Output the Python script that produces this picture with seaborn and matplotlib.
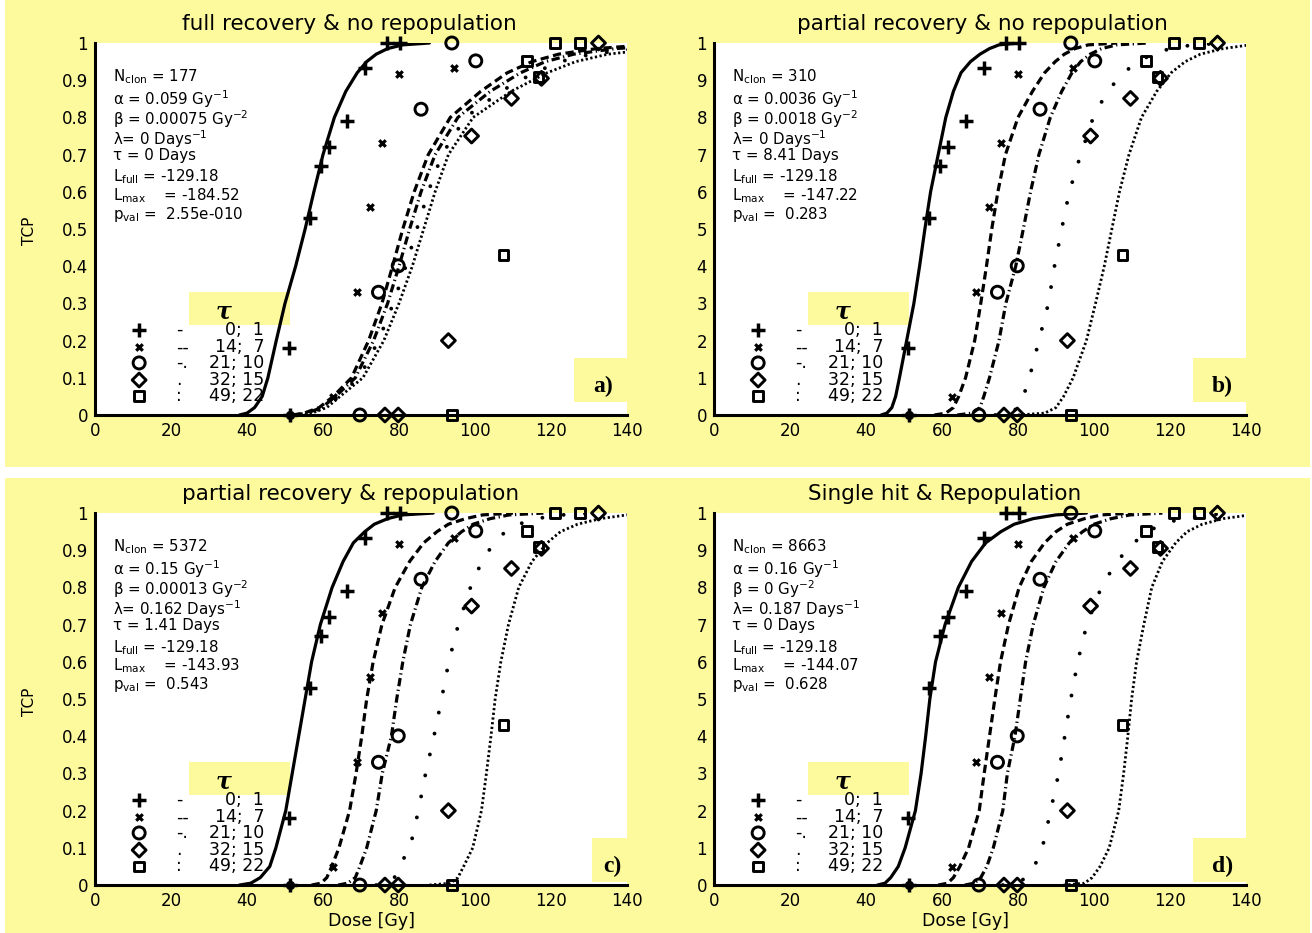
import matplotlib
matplotlib.use("Agg")
import matplotlib.pyplot as plt
import seaborn as sns
from matplotlib.patches import Rectangle

YELLOW = "#fdfa9e"

LEVELS = [0, 0.005, 0.02, 0.05, 0.1, 0.2, 0.3, 0.4, 0.5, 0.6, 0.7, 0.8,
          0.87, 0.92, 0.95, 0.97, 0.985, 0.995, 1.0]

# dose [Gy] at each level, curves ordered: solid, dashed, dash-dot, dots, dotted
CURVES_A = [
    [38, 40, 42, 44, 45.5, 47.7, 50, 52.8, 55.3, 57.6, 60, 63, 66, 69, 71.5, 74, 77, 81, 88],
    [52, 55, 59, 62.7, 67.5, 72, 75.5, 78.3, 81, 84, 87.7, 93.5, 101.5, 108.5, 115, 122, 132, 145, 160],
    [52.5, 55.7, 59.7, 63.3, 68.5, 73.3, 77, 80, 82.8, 85.8, 89.5, 95.5, 104, 112, 118.5, 126, 137, 152, 167],
    [53.3, 56.3, 60.3, 63.9, 69.5, 74.6, 78.5, 81.8, 84.7, 87.7, 91.3, 97.5, 106.8, 115.5, 122.5, 130.5, 142.5, 158, 173],
    [54, 57, 61, 64.5, 70.5, 76, 80, 83.5, 86.5, 89.5, 93, 99.5, 109.5, 119, 126.5, 135, 148, 165, 180],
]
CURVES_B = [
    [44, 45.5, 46.8, 47.8, 48.8, 50.7, 52.6, 54.1, 55.5, 57, 59, 61, 63, 65, 67.5, 70, 72.5, 75, 80],
    [58, 61, 63, 64.4, 66.2, 68.6, 70.2, 71.7, 73.1, 74.7, 76.7, 80, 83.8, 87, 89.8, 92.2, 95, 98.5, 106],
    [64, 68, 70, 71, 72.5, 75, 76.8, 79.4, 81.4, 83.3, 85.5, 88.5, 91.5, 94.2, 96.5, 99, 102, 106, 114],
    [74, 78, 80, 81.4, 83, 85.5, 88, 89.6, 91.5, 93.5, 96.5, 99.8, 103.5, 107.8, 111.5, 115.5, 120, 126, 135],
    [80, 87, 90, 92, 94.5, 98, 100.4, 102.7, 104.7, 106.7, 109.2, 112.5, 116.5, 120.3, 124, 128, 134, 141, 150],
]
CURVES_C = [
    [38, 41, 43.5, 46, 47.6, 50.2, 51.9, 53.6, 55.3, 57, 59.3, 62.4, 65.3, 68, 71, 73.5, 77, 81, 89],
    [57, 59.5, 61, 62.3, 64.2, 67, 68.7, 70.2, 71.5, 73.2, 75.5, 79, 82.8, 86.5, 90, 93, 97.5, 102, 110],
    [64, 66.5, 68.5, 69.7, 71.5, 74, 75.6, 78, 79.4, 81, 83, 86, 89.5, 93, 96.5, 99.5, 104, 109, 118],
    [74, 77.5, 78.8, 80, 82.9, 85.1, 87, 89.2, 91.2, 93.1, 95.6, 98.8, 101.8, 105, 108, 111.5, 116, 123, 132],
    [88, 93.5, 95.5, 97, 99.4, 101.7, 103, 104.2, 105.3, 106.8, 108.8, 111.5, 115, 119, 122.5, 127, 133, 140, 150],
]
CURVES_D = [
    [43, 45, 46.5, 48.5, 50.3, 53, 54.5, 55.7, 56.8, 58.3, 60.8, 64.3, 67.8, 71.5, 75.5, 79, 84, 90, 98],
    [59, 61.5, 63, 64.7, 67, 69.8, 71.1, 72.5, 73.9, 75.4, 77.5, 80.3, 83.5, 87, 90, 93, 97.5, 102, 110],
    [66, 68.5, 70.2, 71.8, 73.5, 76, 77.2, 79.2, 80.6, 82, 84, 86.8, 90, 93.5, 97, 100, 104.5, 109.5, 118],
    [76, 80, 82, 84.3, 86.4, 88.6, 90.7, 92.3, 93.9, 95.7, 98.1, 101.9, 106, 110.5, 114, 118, 123, 129, 137],
    [92, 97.5, 99.5, 101.6, 104, 106.5, 107.8, 108.9, 109.9, 111.2, 113.1, 115.2, 118, 121.5, 124.5, 128.5, 134, 141, 150],
]

# observed control rates (identical in all four panels)
PLUS_DOSE = [76.8, 80.3, 71.1, 66.2, 61.6, 59.5, 56.6, 51.1, 51.3]
PLUS_TCP = [1.0, 1.0, 0.932, 0.791, 0.721, 0.670, 0.529, 0.179, 0.0]
CROSS_DOSE = [80.0, 94.5, 75.4, 72.4, 68.9, 62.6, 51.3]
CROSS_TCP = [0.918, 0.932, 0.732, 0.560, 0.330, 0.049, 0.0]
CIRCLE_DOSE = [93.9, 100.2, 85.8, 79.8, 74.6, 69.7]
CIRCLE_TCP = [1.0, 0.952, 0.822, 0.401, 0.330, 0.0]
DIAMOND_DOSE = [132.5, 117.5, 109.6, 99.1, 93.0, 76.3, 79.8]
DIAMOND_TCP = [1.0, 0.905, 0.851, 0.750, 0.200, 0.0, 0.0]
SQUARE_DOSE = [121.1, 127.6, 113.6, 116.7, 107.5, 93.9]
SQUARE_TCP = [1.0, 1.0, 0.952, 0.909, 0.430, 0.0]

GROUP_CODES = ["-", "--", "-.", ".", ":"]
GROUP_LABELS = ["0;  1", "14;  7", "21; 10", "32; 15", "49; 22"]

TITLES = ["full recovery & no repopulation", "partial recovery & no repopulation",
          "partial recovery & repopulation", "Single hit & Repopulation"]
N_CLON = ["177", "310", "5372", "8663"]
ALPHA = ["0.059", "0.0036", "0.15", "0.16"]
BETA = ["0.00075", "0.0018", "0.00013", "0"]
LAMBDA = ["0", "0", "0.162", "0.187"]
TAU = ["0", "8.41", "1.41", "0"]
L_FULL = "-129.18"
L_MAX = ["-184.52", "-147.22", "-143.93", "-144.07"]
P_VAL = ["2.55e-010", "0.283", "0.543", "0.628"]
LETTERS = ["a)", "b)", "c)", "d)"]

LINE_STYLES = [
    dict(linestyle="-", lw=2.3),
    dict(linestyle=(0, (2.6, 1.4)), lw=2.3),
    dict(linestyle=(0, (2.6, 1.1, 0.4, 1.1)), lw=2.3),
    dict(linestyle=(0, (0.01, 5.5)), lw=2.8, dash_capstyle="round"),
    dict(linestyle=(0, (0.8, 0.9)), lw=2.0),
]
MARKERS = [
    dict(marker="+", s=95, linewidth=2.5, color="k"),
    dict(marker="x", s=22, linewidth=2.3, color="k"),
    dict(marker="o", s=75, linewidth=2.1, color="k", facecolor="none", edgecolor="k"),
    dict(marker="D", s=50, linewidth=2.1, color="k", facecolor="none", edgecolor="k"),
    dict(marker="s", s=50, linewidth=2.1, color="k", facecolor="none", edgecolor="k"),
]

sns.set_style("white")
plt.rcParams["font.family"] = ["DejaVu Sans"]
plt.rcParams["mathtext.fontset"] = "dejavusans"
plt.rcParams["text.color"] = "black"
plt.rcParams["axes.labelcolor"] = "black"
plt.rcParams["xtick.color"] = "black"
plt.rcParams["ytick.color"] = "black"


def draw_panel(ax, i, curves):
    ax.set_facecolor("white")

    # yellow boxes for the legend header and panel letter
    ax.add_patch(Rectangle((0.177, 0.242), 0.19, 0.089, transform=ax.transAxes,
                           facecolor=YELLOW, edgecolor="none", zorder=0.5))
    box = [(0.900, 0.035, 0.100, 0.118), (0.900, 0.035, 0.100, 0.118),
           (0.934, 0.009, 0.066, 0.117), (0.900, 0.008, 0.100, 0.118)][i]
    ax.add_patch(Rectangle(box[:2], box[2], box[3], transform=ax.transAxes,
                           facecolor=YELLOW, edgecolor="none", zorder=0.5))

    for dose, style in zip(curves, LINE_STYLES):
        sns.lineplot(x=dose, y=LEVELS, ax=ax, color="k", sort=False,
                     estimator=None, zorder=2, **style)

    groups = [(PLUS_DOSE, PLUS_TCP), (CROSS_DOSE, CROSS_TCP), (CIRCLE_DOSE, CIRCLE_TCP),
              (DIAMOND_DOSE, DIAMOND_TCP), (SQUARE_DOSE, SQUARE_TCP)]
    for (dose, tcp), mk in zip(groups, MARKERS):
        sns.scatterplot(x=dose, y=tcp, ax=ax, clip_on=False, zorder=3, **mk)

    # legend
    ax.text(0.241, 0.278, "τ", transform=ax.transAxes, ha="center", va="center",
            fontsize=17, fontweight="bold", fontstyle="italic", family="DejaVu Serif")
    rows = [0.228, 0.182, 0.140, 0.094, 0.050]
    for y, mk, code, lab in zip(rows, MARKERS, GROUP_CODES, GROUP_LABELS):
        ax.scatter([0.083], [y], transform=ax.transAxes, clip_on=False, zorder=3, **mk)
        ax.text(0.152, y, code, transform=ax.transAxes, ha="left", va="center", fontsize=12.5)
        ax.text(0.318, y, lab, transform=ax.transAxes, ha="right", va="center", fontsize=12.5)

    # fit parameters
    lines = [
        f"N$_\\mathrm{{clon}}$ = {N_CLON[i]}",
        f"α = {ALPHA[i]} Gy$^{{-1}}$",
        f"β = {BETA[i]} Gy$^{{-2}}$",
        f"λ= {LAMBDA[i]} Days$^{{-1}}$",
        f"τ = {TAU[i]} Days",
        f"L$_\\mathrm{{full}}$ = {L_FULL}",
        f"L$_\\mathrm{{max}}$    = {L_MAX[i]}",
        f"p$_\\mathrm{{val}}$ =  {P_VAL[i]}",
    ]
    for y, s in zip([0.898, 0.834, 0.780, 0.727, 0.686, 0.627, 0.577, 0.527], lines):
        ax.text(0.034, y, s, transform=ax.transAxes, ha="left", va="baseline", fontsize=10.8)

    title_x = [0.479, 0.504, 0.481, 0.434][i]
    ax.text(title_x, 1.05, TITLES[i], transform=ax.transAxes, ha="center", va="center",
            fontsize=15.5)

    letter_x = [0.955, 0.956, 0.972, 0.956][i]
    letter_y = [0.076, 0.076, 0.049, 0.049][i]
    ax.text(letter_x, letter_y, LETTERS[i], transform=ax.transAxes, ha="center", va="center",
            fontsize=17, fontweight="bold", family="Liberation Serif", zorder=4)

    ax.set_xlim(0, 140)
    ax.set_ylim(0, 1)
    ax.set_xticks(range(0, 141, 20))
    ax.set_yticks([k / 10 for k in range(11)])
    if i % 2 == 0:
        ax.set_yticklabels(["0", "0.1", "0.2", "0.3", "0.4", "0.5", "0.6", "0.7", "0.8", "0.9", "1"])
    else:
        ax.set_yticklabels(["0", "1", "2", "3", "4", "5", "6", "7", "8", "9", "1"])
    ax.set_xlabel("")
    ax.set_ylabel("")
    for side in ["top", "right"]:
        ax.spines[side].set_visible(False)
    for side in ["left", "bottom"]:
        ax.spines[side].set_linewidth(2.2)
        ax.spines[side].set_color("k")
    ax.tick_params(direction="in", length=4, width=1.6, labelsize=12, pad=5,
                   colors="k", labelcolor="k")


fig = plt.figure(figsize=(13.12, 9.33), dpi=100)
fig.patches.append(Rectangle((0.0038, 0.4995), 0.9947, 0.5005, transform=fig.transFigure,
                             facecolor=YELLOW, edgecolor="none", zorder=-1))
fig.patches.append(Rectangle((0.0038, 0.0), 0.9947, 0.4877, transform=fig.transFigure,
                             facecolor=YELLOW, edgecolor="none", zorder=-1))

positions = [(0.0724, 0.5552, 0.4055, 0.3987), (0.5442, 0.5552, 0.4055, 0.3987),
             (0.0724, 0.0514, 0.4055, 0.3987), (0.5442, 0.0514, 0.4055, 0.3987)]
for i, (pos, curves) in enumerate(zip(positions, [CURVES_A, CURVES_B, CURVES_C, CURVES_D])):
    ax = fig.add_axes(pos)
    draw_panel(ax, i, curves)

fig.text(30 / 1312, 1 - 231 / 933, "TCP", rotation=90, ha="center", va="center", fontsize=11)
fig.text(30 / 1312, 1 - 702 / 933, "TCP", rotation=90, ha="center", va="center", fontsize=11)
fig.text(372 / 1312, 1 - 921 / 933, "Dose [Gy]", ha="center", va="center", fontsize=12.5)
fig.text(965 / 1312, 1 - 921 / 933, "Dose [Gy]", ha="center", va="center", fontsize=12.5)

fig.savefig("out.png", dpi=100, facecolor="white")
